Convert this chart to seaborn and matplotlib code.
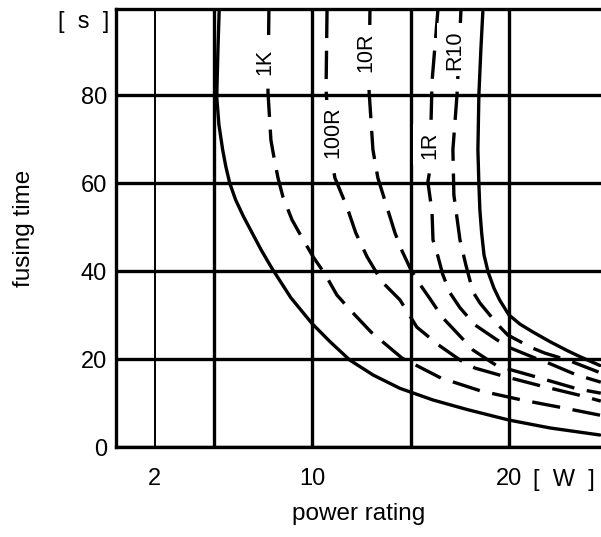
import matplotlib
matplotlib.use('Agg')
import matplotlib.pyplot as plt
import seaborn as sns
import pandas as pd

# curves (x = power rating in W, y = fusing time in s)
solid_left_x = [5.27, 5.20, 5.14, 5.25, 5.44, 5.6, 5.8, 6.1, 6.5, 6.95, 7.4, 7.95, 8.44, 8.9,
                9.96, 10.89, 11.90, 13.09, 14.44, 16.12, 17.84, 19.97, 22.06, 24.59]
solid_left_y = [100.1, 90.3, 79.6, 73.3, 67.6, 63.8, 60.0, 56.2, 52.4, 48.6, 44.8, 40.6, 37.2, 34.0,
                28.2, 24.0, 19.8, 16.4, 13.4, 10.75, 8.6, 6.2, 4.4, 2.8]

r1k_x = [7.79, 7.74, 7.89, 8.04, 8.25, 8.50, 8.96, 9.47, 10.03, 10.63, 11.24, 12.0, 12.97, 14.54,
         16.52, 18.55, 20.63, 22.77, 24.6]
r1k_y = [100.1, 80.75, 69.8, 66.0, 61.2, 56.9, 51.7, 47.6, 43.3, 39.4, 34.6, 30.8, 26.2, 20.3,
         15.75, 12.8, 10.75, 8.93, 7.3]

r100_x = [10.74, 10.69, 10.89, 11.14, 11.75, 12.2, 12.77, 13.53, 14.44, 15.3, 16.4, 17.5, 18.25,
          19.67, 21.6, 23.68, 24.64]
r100_y = [99.4, 81.2, 67.6, 61.2, 54.6, 48.7, 43.3, 37.6, 33.5, 27.3, 23.25, 19.8, 18.0,
          16.2, 13.95, 11.7, 10.5]

r10_x = [12.92, 12.87, 13.07, 13.32, 13.78, 14.19, 14.55, 15.0, 15.46, 15.96, 16.62, 17.59, 18.15,
         19.37, 21.35, 23.43, 24.64]
r10_y = [99.8, 81.2, 67.6, 61.2, 54.6, 48.7, 44.6, 40.3, 37.0, 33.8, 29.4, 24.8, 22.1,
         18.5, 16.0, 13.3, 12.3]

r1_x = [16.37, 16.07, 15.96, 15.86, 16.07, 16.12, 16.32, 16.62, 16.98, 17.49, 18.25, 19.37, 20.03,
        21.29, 21.95, 23.38, 24.64]
r1_y = [99.4, 83.0, 63.0, 60.3, 53.5, 47.1, 44.2, 39.2, 35.1, 31.7, 27.8, 24.4, 22.6,
        20.3, 19.2, 16.5, 14.8]

r01_x = [17.54, 17.34, 17.13, 17.18, 17.49, 17.79, 18.15, 18.5, 19.42, 19.92, 21.14, 21.8, 22.97, 24.64]
r01_y = [99.4, 80.1, 67.6, 57.3, 47.1, 41.4, 35.3, 32.8, 27.8, 25.5, 22.6, 21.4, 19.8, 16.9]

solid_right_x = [18.65, 18.55, 18.45, 18.40, 18.45, 18.5, 18.59, 18.71, 18.92, 19.21, 19.5, 19.97,
                 20.53, 21.19, 22.06, 22.92, 23.58, 24.59]
solid_right_y = [98.9, 90.3, 80.1, 67.6, 59.8, 53.9, 48.7, 43.7, 39.8, 36.2, 33.5, 30.1,
                 28.0, 26.2, 24.0, 22.0, 20.6, 18.6]

curve_names = ['min', '1K', '100R', '10R', '1R', 'R10', 'max']
curve_kinds = ['solid', 'dashed', 'dashed', 'dashed', 'dashed', 'dashed', 'solid']
curve_xs = [solid_left_x, r1k_x, r100_x, r10_x, r1_x, r01_x, solid_right_x]
curve_ys = [solid_left_y, r1k_y, r100_y, r10_y, r1_y, r01_y, solid_right_y]

# label positions on the dashed curves
label_text = ['1K', '100R', '10R', '1R', 'R10']
label_x = [7.6, 11.05, 12.72, 15.97, 17.23]
label_y = [87.6, 71.5, 89.8, 68.7, 90.3]

x_ticks = [2, 5, 10, 15, 20]
x_ticklabels = ['2', '', '10', '', '20']
y_ticks = [0, 20, 40, 60, 80]

frames = []
for name, kind, xs, ys in zip(curve_names, curve_kinds, curve_xs, curve_ys):
    frames.append(pd.DataFrame({'power': xs, 'time': ys, 'curve': name, 'kind': kind}))
df = pd.concat(frames, ignore_index=True)

sns.set_theme(style='white')
plt.rcParams['font.family'] = ['Liberation Sans', 'DejaVu Sans']
plt.rcParams['text.color'] = 'black'
plt.rcParams['axes.labelcolor'] = 'black'
plt.rcParams['xtick.color'] = 'black'
plt.rcParams['ytick.color'] = 'black'

fig = plt.figure(figsize=(6.01, 5.37), dpi=100)
ax = fig.add_axes([0.1922, 0.167, 0.8078, 0.8157])

lw = 2.4
sns.lineplot(data=df, x='power', y='time', hue='curve', style='kind',
             palette={c: 'black' for c in curve_names},
             dashes={'solid': '', 'dashed': (8.5, 3.8)},
             sort=False, estimator=None, legend=False, linewidth=lw, ax=ax, zorder=3)

for t, lx, ly in zip(label_text, label_x, label_y):
    ax.text(lx, ly, t, rotation=90, ha='center', va='center', fontsize=15.5, zorder=4,
            bbox=dict(facecolor='white', edgecolor='none', pad=5))

ax.set_xlim(0, 24.65)
ax.set_ylim(0, 99.5)
ax.set_xticks(x_ticks)
ax.set_xticklabels(x_ticklabels)
ax.set_yticks(y_ticks)
ax.set_yticklabels([str(v) for v in y_ticks])
ax.tick_params(axis='x', length=3, width=lw, pad=12, labelsize=17, color='black')
ax.tick_params(axis='y', length=0, pad=6, labelsize=17)

ax.grid(True, color='black', linewidth=lw)
ax.xaxis.get_gridlines()[0].set_linewidth(1.4)
ax.xaxis.get_ticklines()[0].set_markeredgewidth(1.4)
ax.set_axisbelow(True)

for side in ['left', 'bottom', 'top']:
    ax.spines[side].set_visible(True)
    ax.spines[side].set_color('black')
    ax.spines[side].set_linewidth(lw)
ax.spines['right'].set_visible(False)

ax.set_xlabel('power rating', fontsize=17.5, labelpad=9)
ax.set_ylabel('fusing time', fontsize=17.5, labelpad=33)

ax.text(-0.3, 96.7, '[  s  ]', ha='right', va='center', fontsize=17, clip_on=False)
ax.text(22.75, -0.075, '[  W  ]', ha='center', va='center', fontsize=17,
        transform=ax.get_xaxis_transform(), clip_on=False)

fig.savefig('out.png', dpi=100)
